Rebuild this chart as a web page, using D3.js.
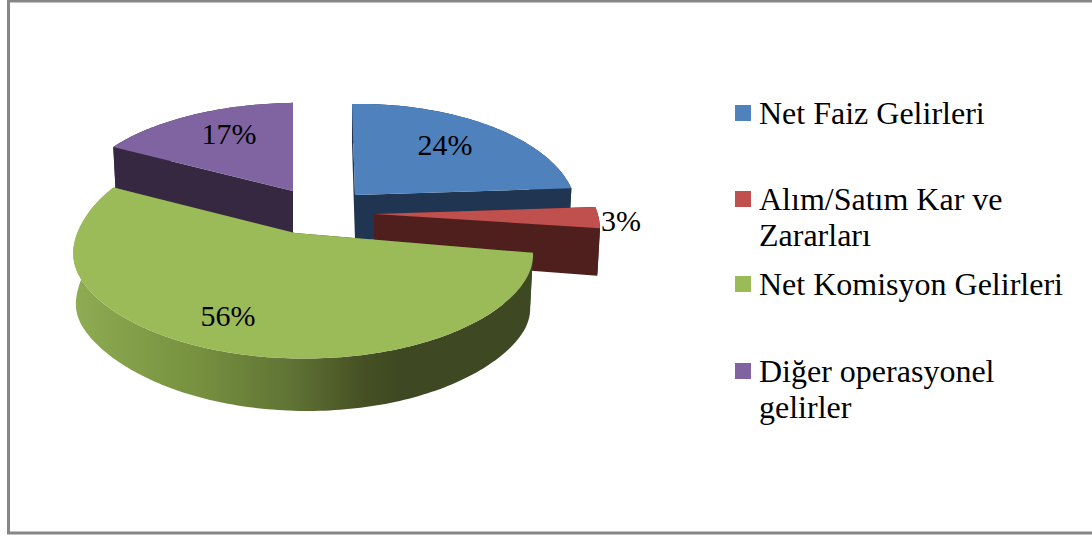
<!DOCTYPE html>
<html><head><meta charset="utf-8">
<script src="https://cdn.jsdelivr.net/npm/d3@7/dist/d3.min.js"></script>
<style>html,body{margin:0;padding:0;background:#fff}svg{display:block}</style>
</head><body><svg id="c" width="1092" height="536"></svg>
<script>
const categories = ["Net Faiz Gelirleri", "Alım/Satım Kar ve Zararları", "Net Komisyon Gelirleri", "Diğer operasyonel gelirler"];
const values = [24, 3, 56, 17];
const valueLabels = ["24%", "3%", "56%", "17%"];
const legendLines = [["Net Faiz Gelirleri"], ["Alım/Satım Kar ve", "Zararları"], ["Net Komisyon Gelirleri"], ["Diğer operasyonel", "gelirler"]];
const topColors = ["#4f81bd", "#c0504d", "#9bbb59", "#8064a2"];
const sideColors = ["#1f3552", "#4f1f1e", "url(#greenSide)", "#372842"];

// layout of the exploded perspective pie
const apexX = [355, 374, 295, 293], apexY = [195, 214, 233, 191];
const scaleX = [0.92, 0.94, 0.99, 0.98], scaleY = [0.96, 1, 1, 0.93];
const skewX = [3, 0, 0, 0];
const topBump = [0, 0, 6, 0], wallBump = [0, 0, 7, 0];
const drawOrder = [0, 3, 1, 2];
const RX = 229.7, RY = 108, P = 0.139, Q = 0.035, DEPTH = 45;
const labelX = [445, 621, 228, 229], labelY = [155, 231, 326, 144];
const legendBase = [123, 209, 294, 381], lineGap = 36;

const svg = d3.select("#c");
const grad = svg.append("defs").append("linearGradient").attr("id", "greenSide")
  .attr("gradientUnits", "userSpaceOnUse").attr("x1", 75).attr("x2", 540).attr("y1", 0).attr("y2", 0);
[[0, "#8eac52"], [0.27, "#76903f"], [0.47, "#5f7234"], [0.62, "#465024"], [0.7, "#3e4822"], [1, "#3e4822"]]
  .forEach(s => grad.append("stop").attr("offset", s[0]).attr("stop-color", s[1]));

svg.append("rect").attr("x", 8.5).attr("y", 1).attr("width", 1100).attr("height", 532)
  .attr("fill", "#fff").attr("stroke", "#868686").attr("stroke-width", 3);

const arcs = d3.pie().sort(null).value(d => d)(values);
const line = d3.line();

function project(i, a, r, down) {
  const u = r * Math.sin(a), v = -r * Math.cos(a);
  const w = 1 - P * v - Q * u;
  const shrink = down ? 0.988 : 1;
  const b = r * Math.exp(-((v / 0.45) ** 2));
  return [apexX[i] + scaleX[i] * shrink * RX * u / w + skewX[i] * v,
          apexY[i] + scaleY[i] * RY * v / w + topBump[i] * b + (down ? DEPTH / w + wallBump[i] * b : 0)];
}
function rim(i, a0, a1, down) {
  const n = Math.ceil(Math.abs(a1 - a0) / 0.02) + 1;
  return d3.range(n + 1).map(k => project(i, a0 + (a1 - a0) * k / n, 1, down));
}
const g = svg.append("g");
drawOrder.forEach(i => {
  const a = arcs[i], a0 = a.startAngle, a1 = a.endAngle;
  const apexTop = project(i, 0, 0, false), apexBot = project(i, 0, 0, true);
  [a0, a1].forEach(t => {
    const e0 = project(i, t, 1, false), e1 = project(i, t, 1, true);
    g.append("path").attr("d", line([apexTop, e0, e1, apexBot]) + "Z")
      .attr("fill", i === 2 ? "#3e4822" : sideColors[i]);
  });
  const wall = rim(i, a0, a1, false).concat(rim(i, a0, a1, true).reverse());
  g.append("path").attr("d", line(wall) + "Z").attr("fill", sideColors[i]);
  g.append("path").attr("d", line([apexTop].concat(rim(i, a0, a1, false))) + "Z")
    .attr("fill", topColors[i]);
});

svg.append("g").selectAll("text").data(valueLabels).join("text")
  .attr("x", (d, i) => labelX[i]).attr("y", (d, i) => labelY[i])
  .attr("text-anchor", "middle")
  .attr("font-family", "Liberation Serif").attr("font-size", 30).attr("fill", "#000")
  .text(d => d);

const lg = svg.append("g").selectAll("g").data(categories).join("g");
lg.append("rect").attr("x", 735).attr("y", (d, i) => legendBase[i] - 18)
  .attr("width", 16).attr("height", 16).attr("fill", (d, i) => topColors[i]);
lg.each(function (d, i) {
  d3.select(this).selectAll("text").data(legendLines[i]).join("text")
    .attr("x", 759).attr("y", (t, k) => legendBase[i] + 1 + k * lineGap)
    .attr("font-family", "Liberation Serif").attr("font-size", 32).attr("fill", "#000")
    .text(t => t);
});
</script></body></html>
